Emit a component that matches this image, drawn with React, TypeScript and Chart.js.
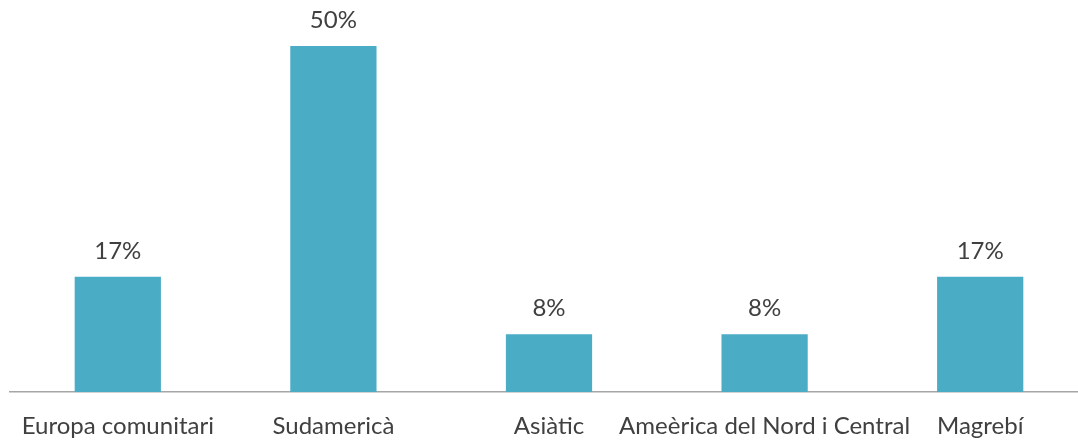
import React, { useEffect, useRef } from "react";
import { Chart, registerables } from "chart.js";

Chart.register(...registerables);

const categories = [
  "Europa comunitari",
  "Sudamericà",
  "Asiàtic",
  "Ameèrica del Nord i Central",
  "Magrebí",
];
const values = [16.67, 50, 8.33, 8.33, 16.67];

const FONT = "Lato, 'Open Sans', sans-serif";

const dataLabelPlugin = {
  id: "dataLabels",
  afterDatasetsDraw(chart: any) {
    const ctx = chart.ctx;
    const meta = chart.getDatasetMeta(0);
    ctx.save();
    ctx.font = `24px ${FONT}`;
    ctx.fillStyle = "#404040";
    ctx.textAlign = "center";
    ctx.textBaseline = "alphabetic";
    meta.data.forEach((bar: any, i: number) => {
      const v = values[i];
      ctx.fillText(`${Math.round(v)}%`, bar.x, bar.y - 18);
    });
    ctx.restore();
  },
};

export default function App() {
  const ref = useRef<HTMLCanvasElement>(null);
  useEffect(() => {
    if (!ref.current) return;
    const chart = new Chart(ref.current, {
      type: "bar",
      data: {
        labels: categories,
        datasets: [
          {
            data: values,
            backgroundColor: "#4BACC6",
            categoryPercentage: 1,
            barPercentage: 0.4,
          },
        ],
      },
      options: {
        responsive: false,
        animation: false,
        devicePixelRatio: 1,
        layout: { padding: { left: 10, right: 2, top: 11.4, bottom: 0 } },
        plugins: {
          legend: { display: false },
          tooltip: { enabled: false },
        },
        scales: {
          x: {
            grid: { display: false, drawTicks: false },
            border: { display: true, color: "#A6A6A6", width: 1.5 },
            ticks: {
              color: "#404040",
              font: { family: FONT, size: 24 },
              padding: 19.6,
              maxRotation: 0,
              autoSkip: false,
            },
            afterFit(scale: any) {
              scale.height = 54;
            },
          },
          y: {
            display: false,
            min: 0,
            max: 55,
          },
        },
      },
      plugins: [dataLabelPlugin],
    });
    return () => chart.destroy();
  }, []);
  return (
    <div
      style={{
        position: "fixed",
        left: 0,
        top: 0,
        width: 1078,
        height: 446,
        overflow: "hidden",
        background: "#fff",
      }}
    >
      <canvas ref={ref} width={1090} height={446} style={{ display: "block" }} />
    </div>
  );
}
